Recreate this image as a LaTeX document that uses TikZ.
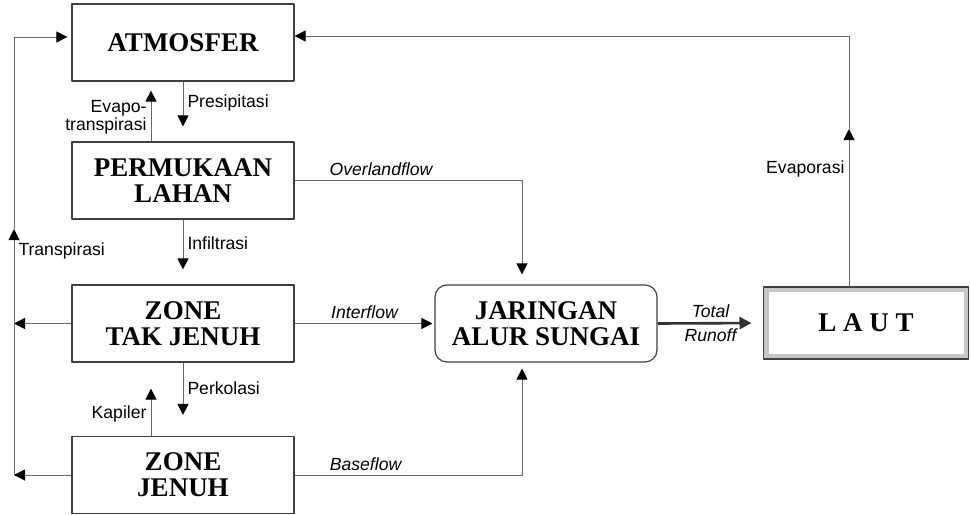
\documentclass[tikz,border=0pt]{standalone}
\usepackage{fontspec}
\setmainfont{Liberation Serif}
\setsansfont{Liberation Sans}
\usetikzlibrary{arrows.meta,positioning}

\begin{document}
\begin{tikzpicture}[x=0.5pt,y=-0.5pt,>={Triangle[length=5.5pt,width=5.5pt,color=black]},
	line join=round,
	box/.style={draw=black!75,line width=0.6pt,minimum width=111pt,minimum height=38.5pt,inner sep=0pt,align=center,font=\fontsize{13.5}{13}\selectfont\bfseries},
	flow/.style={draw=black!60,line width=0.5pt},
	lbl/.style={font=\sffamily\fontsize{8.8}{8}\selectfont,inner sep=2pt},
	ilbl/.style={font=\sffamily\itshape\fontsize{8.8}{8}\selectfont,inner sep=2pt}]
	\useasboundingbox (0,0) rectangle (971,515);
	\node[box] (atmos) at (183,42.5) {ATMOSFER};
	\node[box] (lahan) at (183,180.5) {PERMUKAAN\\LAHAN};
	\node[box] (tjenuh) at (183,323.5) {ZONE\\TAK JENUH};
	\node[box] (jenuh) at (183,475) {ZONE\\JENUH};
	\node[box,rounded corners=6pt] (sungai) at (546,323.5) {JARINGAN\\ALUR SUNGAI};
	\node[box,minimum width=100pt,minimum height=33.5pt,draw=gray!45,line width=2.5pt] (laut) at (866,323) {L A U T};
	\draw[black!75,line width=0.6pt] (laut.north west) rectangle (laut.south east);
	\coordinate (ltop) at (14,37);
	\coordinate (lmid) at (14,229);
	\coordinate (rtop) at (849,36);
	\coordinate (rmid) at (849,129);
	\draw[flow,->,shorten >=7.5pt] (atmos.south) -- node[lbl,right,pos=0.35] (presip) {Presipitasi} (lahan.north);
	\draw[flow,->,shorten >=4.5pt] ([xshift=-16pt]lahan.north) -- node[lbl,left,align=right,pos=0.4,font=\sffamily\fontsize{8.8}{6.5}\selectfont] (evapo) {Evapo-\\transpirasi} ([xshift=-16pt]atmos.south);
	\draw[flow,->,shorten >=7.5pt] (lahan.south) -- node[lbl,right,pos=0.36] (infil) {Infiltrasi} (tjenuh.north);
	\draw[flow,->,shorten >=10.5pt] (tjenuh.south) -- node[lbl,right,pos=0.35] (perkol) {Perkolasi} (jenuh.north);
	\draw[flow,->,shorten >=13pt] ([xshift=-16pt]jenuh.north) -- node[lbl,left,pos=0.3] (kapiler) {Kapiler} ([xshift=-16pt]tjenuh.south);
	\draw[flow,->] (tjenuh.west) -- (tjenuh.west -| ltop);
	\draw[flow,->] (jenuh.west) -- (jenuh.west -| ltop);
	\draw[flow,->] (jenuh.west -| ltop) -- node[lbl,right,pos=0.91] (transp) {Transpirasi} (lmid);
	\draw[flow,->,shorten >=2pt] (lmid) -- (ltop) -- ([yshift=2.75pt]atmos.west);
	\draw[flow,->,shorten >=5pt] (lahan.east) -| node[ilbl,above,pos=0.19] (overland) {Overlandflow} ([xshift=-12pt]sungai.north);
	\draw[flow,->,shorten >=1pt] (tjenuh.east) -- node[ilbl,above] (inter) {Interflow} (sungai.west);
	\draw[flow,->,shorten >=3pt] (jenuh.east) -| node[ilbl,above,pos=0.156] (base) {Baseflow} ([xshift=-12pt]sungai.south);
	\draw[draw=black!80,line width=1.3pt,-{Triangle[length=6pt,width=6pt]},shorten >=6pt] (sungai.east) -- node[ilbl,above] (total) {Total} node[ilbl,below] (runoff) {Runoff} (laut.west);
	\draw[flow,->] ([xshift=-8.5pt]laut.north) -- node[lbl,left,pos=0.75] (evapor) {Evaporasi} (rmid);
	\draw[flow,->] (rmid) -- (rtop) -- ([yshift=3.25pt]atmos.east);
\end{tikzpicture}
\end{document}
